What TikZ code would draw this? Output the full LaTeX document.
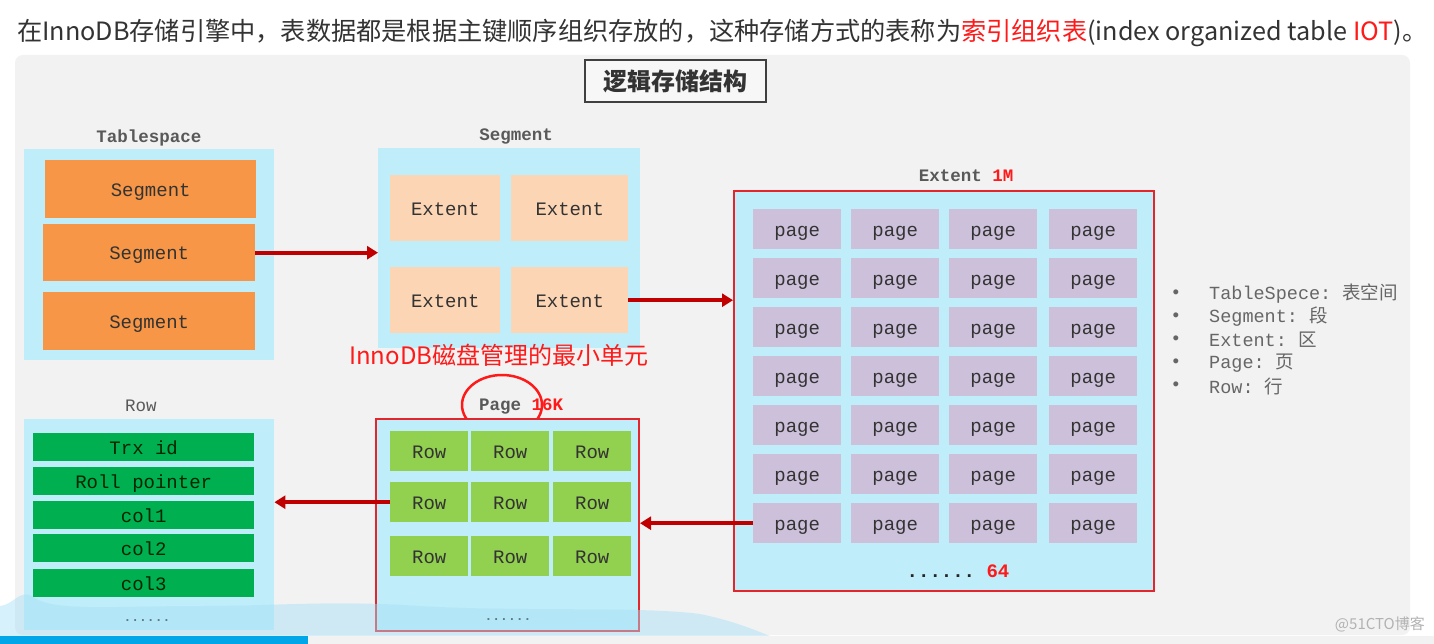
\documentclass[tikz,border=0pt]{standalone}
\usepackage{fontspec}
\usetikzlibrary{arrows.meta}
\setmainfont{Noto Sans CJK SC}
\newfontfamily\cjk{Noto Sans CJK SC}
\newfontfamily\mono{Liberation Mono}

\definecolor{panelgray}{HTML}{F2F2F2}
\definecolor{skyblue}{HTML}{BFEDFA}
\definecolor{segorange}{HTML}{F79646}
\definecolor{extpeach}{HTML}{FCD5B4}
\definecolor{pagelilac}{HTML}{CCC0DA}
\definecolor{rowgreen}{HTML}{92D050}
\definecolor{fieldgreen}{HTML}{00B050}
\definecolor{framered}{HTML}{E3262C}
\definecolor{hlred}{HTML}{FF1A1A}
\definecolor{darkred}{HTML}{C00000}
\definecolor{labelgray}{HTML}{595959}
\definecolor{barblue}{HTML}{00A6E8}

\tikzset{
  box/.style={fill=skyblue, inner sep=0pt, anchor=north west},
  frame/.style={box, draw=framered, line width=2pt},
  cell/.style={inner sep=0pt, anchor=north west, text=black!80, text height=14pt, text depth=0pt,
    font=\mono\fontsize{19}{19}\selectfont},
  title/.style={text=labelgray, font=\mono\bfseries\fontsize{17.5}{18}\selectfont},
  legend/.style={text=black!60, font=\mono\fontsize{18.5}{19}\selectfont},
  dots/.style={text=black!85, font=\mono\bfseries\fontsize{13}{13}\selectfont},
  link/.style={draw=darkred, line width=4pt, -{Triangle[length=11pt,width=13pt]}},
}

\begin{document}
\begin{tikzpicture}[x=1pt, y=-1pt]
\useasboundingbox (0,0) rectangle (1434,644);

% page background and grey panel
\fill[white] (0,0) rectangle (1434,644);
\fill[panelgray, rounded corners=8pt] (15,55) rectangle (1410,635);

% heading line
\node[anchor=west, inner sep=0pt, text=black!80, font=\fontsize{25.2}{26}\selectfont] (intro) at (17,33)
  {在InnoDB存储引擎中，表数据都是根据主键顺序组织存放的，这种存储方式的表称为\textcolor{hlred}{索引组织表}(index organized table \textcolor{hlred}{IOT})。};

% title box
\node[draw=black!75, line width=1.5pt, fill=white!97!black, inner sep=0pt, minimum width=181pt, minimum height=42pt,
  text=black!80, font=\bfseries\fontsize{24}{24}\selectfont] (title) at (675.5,81) {逻辑存储结构};

% Tablespace
\node[title] (tslabel) at (149,138) {Tablespace};
\node[box, minimum width=250pt, minimum height=211pt] (tsbox) at (24,149) {};
\node[cell, fill=segorange, minimum width=211pt, minimum height=58pt] (seg1) at (45,160) {Segment};
\node[cell, fill=segorange, minimum width=212pt, minimum height=57pt] (seg2) at (43,224) {Segment};
\node[cell, fill=segorange, minimum width=212pt, minimum height=58pt] (seg3) at (43,292) {Segment};

% Segment
\node[title] (seglabel) at (516,137) {Segment};
\node[box, minimum width=262pt, minimum height=200pt] (segbox) at (378,148) {};
\foreach \x/\y/\w/\n in {390/175/110/1, 511/175/117/2, 390/267/110/3, 511/267/117/4}
  \node[cell, fill=extpeach, minimum width=\w pt, minimum height=66pt] (ext\n) at (\x,\y) {Extent};

% Extent 1M
\node[title] (extlabel) at (966,176) {Extent \textcolor{hlred}{1M}};
\node[frame, minimum width=420pt, minimum height=400pt] (extbox) at (733,190) {};
\foreach \c/\x in {1/753, 2/851, 3/949, 4/1049}
  \foreach \r in {1,...,7}
    \node[cell, fill=pagelilac, minimum width=88pt, minimum height=40pt] (page-\r-\c) at (\x,{209+49*(\r-1)}) {page};
\node[dots, font=\mono\bfseries\fontsize{19}{19}\selectfont] (extdots) at (958,571) {......\ \textcolor{hlred}{64}};

% legend
\foreach \k/\v [count=\i] in {TableSpece/表空间, Segment/段, Extent/区, Page/页, Row/行} {
  \node[legend] (bul\i) at (1176,{294+23*(\i-1)}) {•};
  \node[legend, anchor=west, inner sep=0pt] (leg\i) at (1209,{294+23*(\i-1)}) {\k:~{\cjk\v}};
}

% note on the page
\node[anchor=west, inner sep=0pt, text=hlred, font=\fontsize{24}{24}\selectfont] (note) at (349,355) {InnoDB磁盘管理的最小单元};

% Page 16K
\node[title] (pagelabel) at (521,406) {Page \textcolor{hlred}{16K}};
\draw[hlred, line width=2.5pt] (502,405) ellipse [x radius=40pt, y radius=30pt];
\node[frame, minimum width=263pt, minimum height=212pt] (pagebox) at (375,418) {};
\foreach \c/\x in {1/390, 2/471, 3/553}
  \foreach \r/\y in {1/431, 2/482, 3/536}
    \node[cell, fill=rowgreen, minimum width=78pt, minimum height=40pt] (row-\r-\c) at (\x,\y) {Row};
\node[dots] (pagedots) at (508,620) {......};

% Row
\node[title, font=\mono\fontsize{17.5}{18}\selectfont] (rowlabel) at (141,406) {Row};
\node[box, minimum width=250pt, minimum height=211pt] (rowbox) at (24,419) {};
\foreach \y/\t [count=\i] in {433/Trx id, 467/Roll pointer, 501/col1, 534/col2, 569/col3}
  \node[cell, fill=fieldgreen, text=black!85!green, minimum width=221pt, minimum height=28pt] (field\i) at (33,\y) {\t};
\node[dots] (rowdots) at (147,621) {......};

% connectors
\draw[link] (seg2.east) -- (seg2.east -| segbox.west);
\draw[link] (ext4.east) -- (ext4.east -| extbox.west);
\draw[link] (page-7-1.west) -- (page-7-1.west -| pagebox.east);
\draw[link] (row-2-1.west) -- (row-2-1.west -| rowbox.east);

% bottom wave and bar
\fill[barblue!35, opacity=0.45] (0,636) -- (0,606) .. controls (15,604) and (18,590) .. (32,596)
  .. controls (50,612) and (110,606) .. (200,606) .. controls (280,606) and (330,600) .. (420,606)
  .. controls (520,612) and (640,606) .. (700,614) .. controls (730,620) and (750,628) .. (770,636) -- cycle;
\fill[barblue] (0,636) rectangle (308,644);
\fill[black!5] (308,636) rectangle (1434,644);

% watermark
\node[anchor=east, inner sep=0pt, text=black!30, font=\fontsize{15}{15}\selectfont] (mark) at (1425,624) {@51CTO博客};

\end{tikzpicture}
\end{document}
